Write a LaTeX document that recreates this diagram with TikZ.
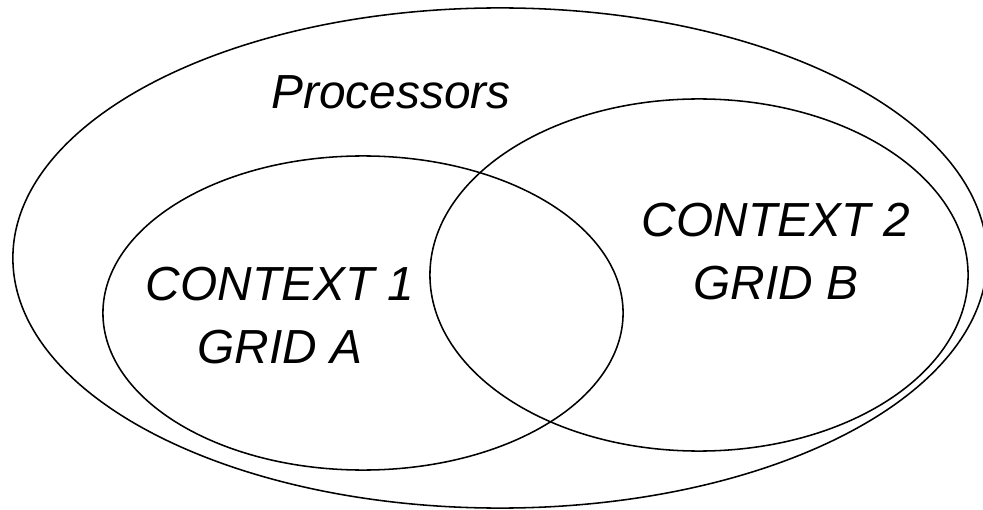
\documentclass[tikz,border=0pt]{standalone}
\usepackage{fontspec}
\setmainfont{Liberation Sans}
\usetikzlibrary{shapes.geometric}
\tikzstyle{venn}=[draw, ellipse, line width=1.1pt, inner sep=0pt]
\tikzstyle{lbl}=[font=\itshape\fontsize{34}{44.8}\selectfont, align=center]

\begin{document}
\begin{tikzpicture}[x=0.025cm, y=-0.025cm]
    \useasboundingbox (0,0) rectangle (983,510);

    \node [venn, minimum width=24.35cm, minimum height=12.5cm] (procs) at (500,258) {};
    \node [venn, minimum width=13cm, minimum height=7.85cm] (ctxA) at (363,313) {};
    \node [venn, minimum width=13.45cm, minimum height=8.8cm] (ctxB) at (699,275) {};

    \node [lbl] (procsLbl) at (391,92) {Processors};
    \node [lbl] (ctxAlbl) at (280,316) {CONTEXT 1\\GRID A};
    \node [lbl] (ctxBlbl) at (776,252) {CONTEXT 2\\GRID B};
\end{tikzpicture}
\end{document}
